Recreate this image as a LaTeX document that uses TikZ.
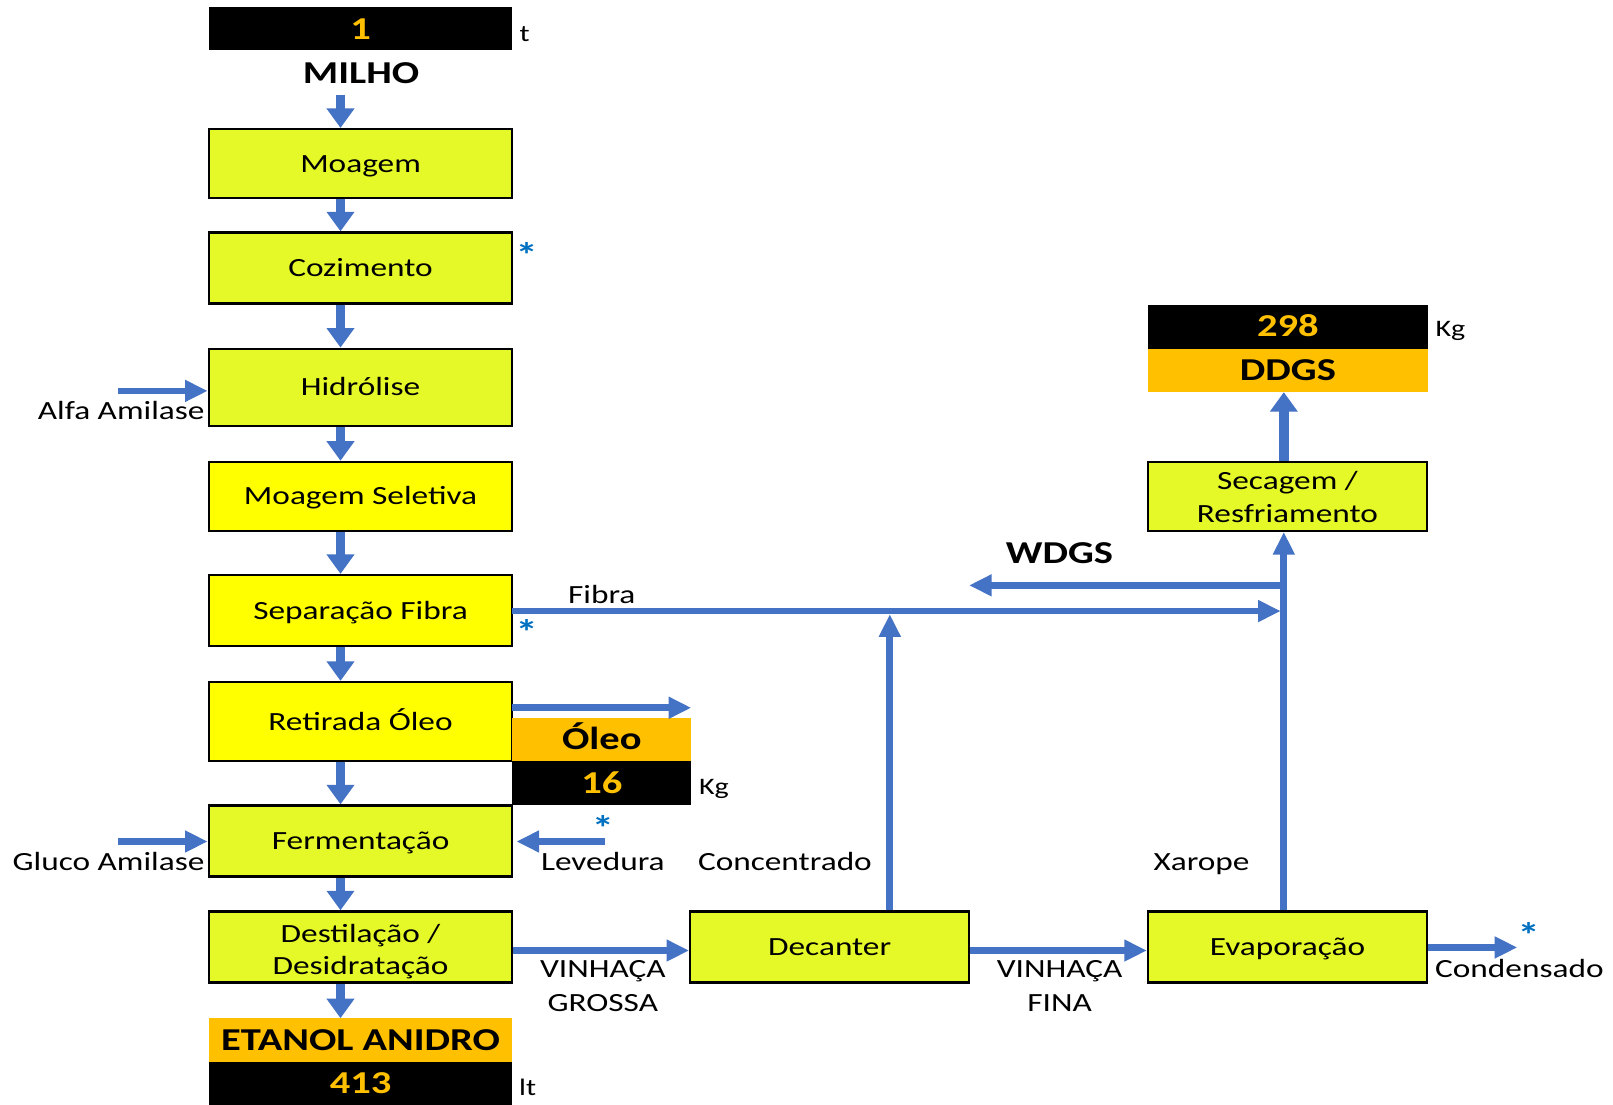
\documentclass[tikz,border=0pt]{standalone}
\usepackage{fontspec}
\setmainfont{Carlito}[FakeStretch=1.27]
\usetikzlibrary{arrows.meta}
\definecolor{boxlime}{HTML}{E6F928}
\definecolor{boxyellow}{HTML}{FFFF00}
\definecolor{flowblue}{HTML}{4472C4}
\definecolor{orng}{HTML}{FFC000}
\definecolor{starblue}{HTML}{0070C0}
\newcommand\fsnorm{\fontsize{25.5}{32}\selectfont}
\newcommand\fsbig{\fontsize{31}{36}\selectfont\bfseries}
\newcommand\fsunit{\fontsize{23}{26}\selectfont}
\newcommand\fsstar{\fontsize{34}{36}\selectfont\bfseries}
\tikzset{
  proc/.style={draw=black, line width=2.2pt, fill=boxlime, minimum width=295pt, align=center, font=\fsnorm, inner sep=0pt, text height=16.5pt, text depth=0pt},
  procy/.style={proc, fill=boxyellow},
  procr/.style={proc, minimum width=271pt},
  blk/.style={fill=black, text=orng, font=\fsbig, inner sep=0pt, text height=20pt, text depth=0pt},
  org/.style={fill=orng, text=black, font=\fsbig, inner sep=0pt, text height=20pt, text depth=0pt},
  lbl/.style={font=\fsnorm, inner sep=0pt, align=center, text height=18pt, text depth=0pt},
  unitlbl/.style={font=\fsunit, inner sep=0pt},
  star/.style={font=\fsstar, text=starblue, inner sep=0pt},
  flow/.style={draw=flowblue, line width=9.5pt, -{Triangle[width=26pt,length=19pt]}},
  flowthin/.style={draw=flowblue, line width=6.5pt, -{Triangle[width=20pt,length=22pt]}}
}
\begin{document}
\begin{tikzpicture}[x=1pt,y=-1pt]
\useasboundingbox (0,0) rectangle (1568,1074);
% left column
\node[blk, minimum width=295pt, minimum height=42pt] (n1) at (350.5,28) {1};
\node[unitlbl] (ut) at (510,33) {t};
\node[font=\fsbig, inner sep=0pt] (milho) at (351,71) {MILHO};
\node[proc, minimum height=67pt] (moagem) at (350.5,159) {Moagem};
\node[proc, minimum height=69pt] (coz) at (350.5,260.5) {Cozimento};
\node[proc, minimum height=75pt] (hidro) at (350.5,376.5) {Hidrólise};
\node[procy, minimum height=67pt] (msel) at (350.5,482.5) {Moagem Seletiva};
\node[procy, minimum height=69pt] (sep) at (350.5,593.5) {Separação Fibra};
\node[procy, minimum height=77pt] (ret) at (350.5,701.5) {Retirada Óleo};
\node[proc, minimum height=69pt] (ferm) at (350.5,817.5) {Fermentação};
\node[proc, text height=54.5pt, minimum height=69pt] (dest) at (350.5,920.5) {Destilação /\\Desidratação};
\node[org, minimum width=295pt, minimum height=42pt] (etanol) at (350.5,1011) {ETANOL ANIDRO};
\node[blk, minimum width=295pt, minimum height=42pt] (n413) at (350.5,1053) {413};
\node[unitlbl] (ult) at (513,1057) {lt};
% oil
\node[org, minimum width=174pt, minimum height=42pt] (oleo) at (585,719) {Óleo};
\node[blk, minimum width=174pt, minimum height=43pt] (n16) at (585,761.5) {16};
\node[unitlbl] (ukg1) at (694,767) {Kg};
% right part
\node[procr, minimum height=69pt] (dec) at (806.5,920.5) {Decanter};
\node[procr, minimum height=69pt] (evap) at (1251.5,920.5) {Evaporação};
\node[procr, text height=50pt, minimum height=67pt] (sec) at (1251.5,482.5) {Secagem /\\Resfriamento};
\node[blk, minimum width=272pt, minimum height=43pt] (n298) at (1252,317.5) {298};
\node[org, minimum width=272pt, minimum height=42pt] (ddgs) at (1252,360) {DDGS};
\node[unitlbl] (ukg2) at (1410,322) {Kg};
% labels
\node[lbl, anchor=east] (alfa) at (199,399) {Alfa Amilase};
\node[lbl, anchor=east] (gluco) at (199,837) {Gluco Amilase};
\node[lbl] (fibra) at (585,578) {Fibra};
\node[lbl] (lev) at (586,837) {Levedura};
\node[lbl] (conc) at (763,837) {Concentrado};
\node[lbl] (xar) at (1168,837) {Xarope};
\node[lbl] (vg1) at (586,941) {VINHAÇA};
\node[lbl] (vg2) at (586,974) {GROSSA};
\node[lbl] (vf1) at (1030,941) {VINHAÇA};
\node[lbl] (vf2) at (1030,974) {FINA};
\node[lbl] (cond) at (1477,941) {Condensado};
\node[font=\fsbig, inner sep=0pt] (wdgs) at (1030,538) {WDGS};
\node[star] (s1) at (512,248) {*};
\node[star] (s2) at (512,614) {*};
\node[star] (s3) at (586,805) {*};
\node[star] (s4) at (1486,909) {*};
% coordinates
\coordinate (ax) at (331,0);
\coordinate (milhoout) at (331,92);
\coordinate (alfain) at (115,380);
\coordinate (glucoin) at (115,818);
\coordinate (levin) at (588,818);
\coordinate (levend) at (502,818);
\coordinate (fibraend) at (1245,594);
\coordinate (fibrastart) at (498,594);
\coordinate (concend) at (865,597);
\coordinate (wdgsstart) at (1248,569);
\coordinate (wdgsend) at (942,569);
\coordinate (oleoout) at (498,688);
\coordinate (oleoend) at (672,688);
\coordinate (vin) at (0,924);
\coordinate (condend) at (1475,921);
\coordinate (xl) at (1248,0);
% vertical main arrows
\draw[flow] (milhoout) -- (moagem.north -| ax);
\draw[flow] (moagem.south -| ax) -- (coz.north -| ax);
\draw[flow] (coz.south -| ax) -- (hidro.north -| ax);
\draw[flow] (hidro.south -| ax) -- (msel.north -| ax);
\draw[flow] (msel.south -| ax) -- (sep.north -| ax);
\draw[flow] (sep.south -| ax) -- (ret.north -| ax);
\draw[flow] (ret.south -| ax) -- (ferm.north -| ax);
\draw[flow] (ferm.south -| ax) -- (dest.north -| ax);
\draw[flow] (dest.south -| ax) -- (etanol.north -| ax);
% inputs
\draw[flowthin] (alfain) -- (hidro.west |- alfain);
\draw[flowthin] (glucoin) -- (ferm.west |- glucoin);
\draw[flowthin] (levin) -- (levend);
% fibra line
\draw[flowthin] (fibrastart) -- (fibraend);
\draw[flowthin] (dec.north -| concend) -- (concend);
\draw[flowthin] (wdgsstart) -- (wdgsend);
\draw[flowthin] (oleoout) -- (oleoend);
% bottom flow
\draw[flowthin] (dest.east |- vin) -- (dec.west |- vin);
\draw[flowthin] (dec.east |- vin) -- (evap.west |- vin);
\draw[flowthin] (evap.east |- condend) -- (condend);
% xarope up
\draw[flowthin] (evap.north -| xl) -- (sec.south -| xl);
\draw[flow] (sec.north -| xl) -- (ddgs.south -| xl);
\end{tikzpicture}
\end{document}
